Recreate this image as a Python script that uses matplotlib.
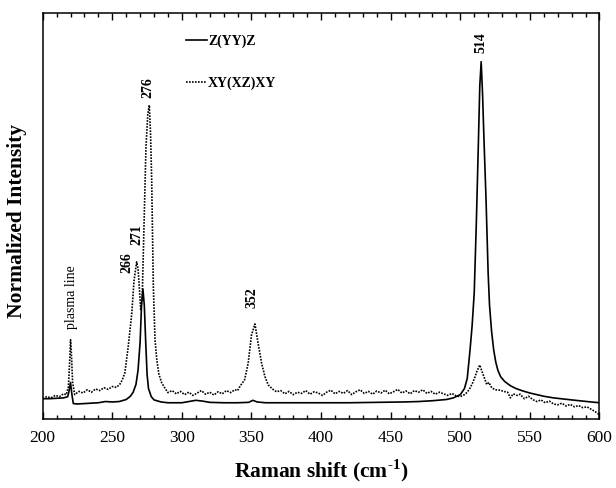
import matplotlib
matplotlib.use("Agg")
import matplotlib.pyplot as plt
from matplotlib.ticker import MultipleLocator, NullLocator

# Z(YY)Z spectrum (solid line), (Raman shift, intensity)
zyyz_points = [
    (200, 0.050), (205, 0.050), (210, 0.051), (215, 0.052), (218, 0.055),
    (219, 0.070), (220, 0.090), (221, 0.060), (222, 0.038), (225, 0.037),
    (230, 0.038), (240, 0.040), (245, 0.043), (250, 0.042), (255, 0.043),
    (260, 0.048), (263, 0.056), (265, 0.066), (267, 0.085), (268.5, 0.120),
    (270, 0.190), (271, 0.280), (272, 0.320), (273, 0.280), (274, 0.190),
    (275, 0.110), (276, 0.075), (278, 0.055), (280, 0.047), (285, 0.042),
    (290, 0.040), (300, 0.040), (305, 0.043), (310, 0.046), (315, 0.044),
    (320, 0.041), (330, 0.040), (340, 0.040), (348, 0.041), (351, 0.046),
    (354, 0.042), (360, 0.040), (380, 0.040), (400, 0.040), (420, 0.040),
    (440, 0.041), (460, 0.042), (470, 0.043), (480, 0.045), (490, 0.048),
    (495, 0.052), (500, 0.060), (503, 0.075), (505, 0.100), (507, 0.170),
    (508.5, 0.230), (510, 0.310), (511.5, 0.480), (513, 0.680), (514, 0.820),
    (515, 0.880), (516, 0.800), (517, 0.690), (518.5, 0.540), (520, 0.360),
    (521, 0.280), (522.5, 0.215), (524, 0.170), (525.5, 0.140), (527, 0.120),
    (529, 0.104), (532, 0.092), (536, 0.082), (540, 0.075), (545, 0.069),
    (550, 0.064), (560, 0.056), (567, 0.052), (580, 0.047), (591, 0.043),
    (600, 0.040),
]

# XY(XZ)XY spectrum (dotted line)
xyxz_points = [
    (200, 0.050), (203, 0.055), (206, 0.052), (209, 0.058), (212, 0.055),
    (215, 0.062), (217, 0.060), (218.5, 0.080), (219.5, 0.150), (220, 0.195),
    (220.5, 0.170), (221.5, 0.090), (223, 0.060), (226, 0.068), (229, 0.064),
    (232, 0.072), (235, 0.066), (238, 0.074), (241, 0.070), (244, 0.077),
    (247, 0.073), (250, 0.080), (253, 0.078), (255.5, 0.086), (257, 0.095),
    (259, 0.113), (261.5, 0.180), (264, 0.260), (265.6, 0.340), (267.5, 0.387),
    (268.5, 0.370), (269.4, 0.325), (270.4, 0.270), (271.5, 0.300), (273, 0.507),
    (274.2, 0.670), (275.5, 0.750), (276.6, 0.773), (277.5, 0.700), (278.3, 0.589),
    (279.5, 0.325), (280.7, 0.195), (282, 0.145), (283.5, 0.110), (285.5, 0.089),
    (288, 0.075), (290, 0.065), (293, 0.070), (296, 0.062), (299, 0.068),
    (302, 0.060), (305, 0.066), (308, 0.058), (311, 0.064), (314, 0.070),
    (317, 0.061), (320, 0.066), (323, 0.059), (326, 0.067), (329, 0.062),
    (332, 0.070), (335, 0.065), (338, 0.072), (340, 0.070), (342, 0.082),
    (345, 0.096), (347.6, 0.137), (350, 0.207), (352.5, 0.234), (354.7, 0.187),
    (357.3, 0.137), (359.7, 0.104), (362, 0.084), (365, 0.074), (368, 0.067),
    (371, 0.070), (374, 0.062), (377, 0.068), (380, 0.060), (383, 0.066),
    (386, 0.063), (389, 0.070), (392, 0.061), (395, 0.067), (398, 0.064),
    (401, 0.058), (404, 0.066), (407, 0.071), (410, 0.062), (413, 0.068),
    (416, 0.063), (419, 0.070), (422, 0.060), (425, 0.067), (428, 0.072),
    (431, 0.063), (434, 0.068), (437, 0.061), (440, 0.069), (443, 0.064),
    (446, 0.071), (449, 0.062), (452, 0.067), (455, 0.073), (458, 0.064),
    (461, 0.069), (464, 0.062), (467, 0.070), (470, 0.066), (473, 0.072),
    (476, 0.063), (479, 0.068), (482, 0.061), (485, 0.066), (488, 0.062),
    (491, 0.058), (494, 0.063), (497, 0.057), (500, 0.055), (503, 0.060),
    (505, 0.066), (507, 0.076), (509, 0.090), (510.6, 0.104), (512, 0.118),
    (514, 0.133), (515.5, 0.118), (517, 0.104), (519, 0.085), (520.5, 0.090),
    (522.6, 0.077), (525, 0.072), (528.6, 0.071), (531, 0.068), (534, 0.066),
    (536, 0.052), (538, 0.062), (541, 0.058), (543, 0.061), (546, 0.050),
    (549, 0.056), (552, 0.048), (555, 0.043), (558, 0.047), (561, 0.040),
    (564, 0.044), (567, 0.037), (570, 0.035), (573, 0.039), (576, 0.032),
    (579, 0.036), (582, 0.030), (585, 0.033), (588, 0.028), (591, 0.030),
    (594, 0.024), (597, 0.018), (600, 0.010),
]

# peak labels: text, x, y (centre of the rotated text)
peak_labels = ["266", "271", "276", "352", "514"]
peak_x = [260.3, 268.0, 275.9, 350.6, 514.9]
peak_y = [0.384, 0.453, 0.817, 0.298, 0.926]

plt.rcParams["font.family"] = ["Liberation Serif", "DejaVu Serif"]
plt.rcParams["mathtext.fontset"] = "custom"
plt.rcParams["mathtext.rm"] = "Liberation Serif"
plt.rcParams["mathtext.bf"] = "Liberation Serif:bold"

fig = plt.figure(figsize=(6.16, 4.88), dpi=100)
ax = fig.add_axes([0.0693, 0.1414, 0.9039, 0.832])

zx, zy = zip(*zyyz_points)
dx, dy = zip(*xyxz_points)
ax.plot(zx, zy, color="black", lw=1.2, label="Z(YY)Z")
ax.plot(dx, dy, color="black", lw=1.2, ls=(0, (1, 0.8)), label="XY(XZ)XY")

for t, x, y in zip(peak_labels, peak_x, peak_y):
    ax.text(x, y, t, rotation=90, ha="center", va="center",
            fontsize=10, fontweight="bold")
ax.text(220.8, 0.30, "plasma line", rotation=90, ha="center", va="center",
        fontsize=10)

ax.set_xlim(200, 600)
ax.set_ylim(0, 1)
ax.xaxis.set_major_locator(MultipleLocator(50))
ax.xaxis.set_minor_locator(MultipleLocator(10))
ax.yaxis.set_major_locator(NullLocator())
ax.tick_params(axis="x", which="both", direction="in", top=True,
               labelsize=12.5, pad=8, width=1)
ax.tick_params(axis="x", which="major", length=5)
ax.tick_params(axis="x", which="minor", length=3)
for s in ax.spines.values():
    s.set_linewidth(1.1)

# superscript uses a plain hyphen like the original
ax.set_xlabel("Raman shift (cm$^{\\mathbf{\u2010}\\mathbf{1}}$)", fontsize=15.5,
              fontweight="bold", labelpad=8)
ax.set_ylabel("Normalized Intensity", fontsize=15.5, fontweight="bold")
ax.yaxis.set_label_coords(-0.029, 0.488)

ax.legend(loc="upper left", bbox_to_anchor=(0.257, 0.948), frameon=False,
          prop={"weight": "bold", "size": 10},
          handlelength=1.5, handletextpad=0.1, labelspacing=2.05,
          borderpad=0, borderaxespad=0)

fig.savefig("out.png", dpi=100)
